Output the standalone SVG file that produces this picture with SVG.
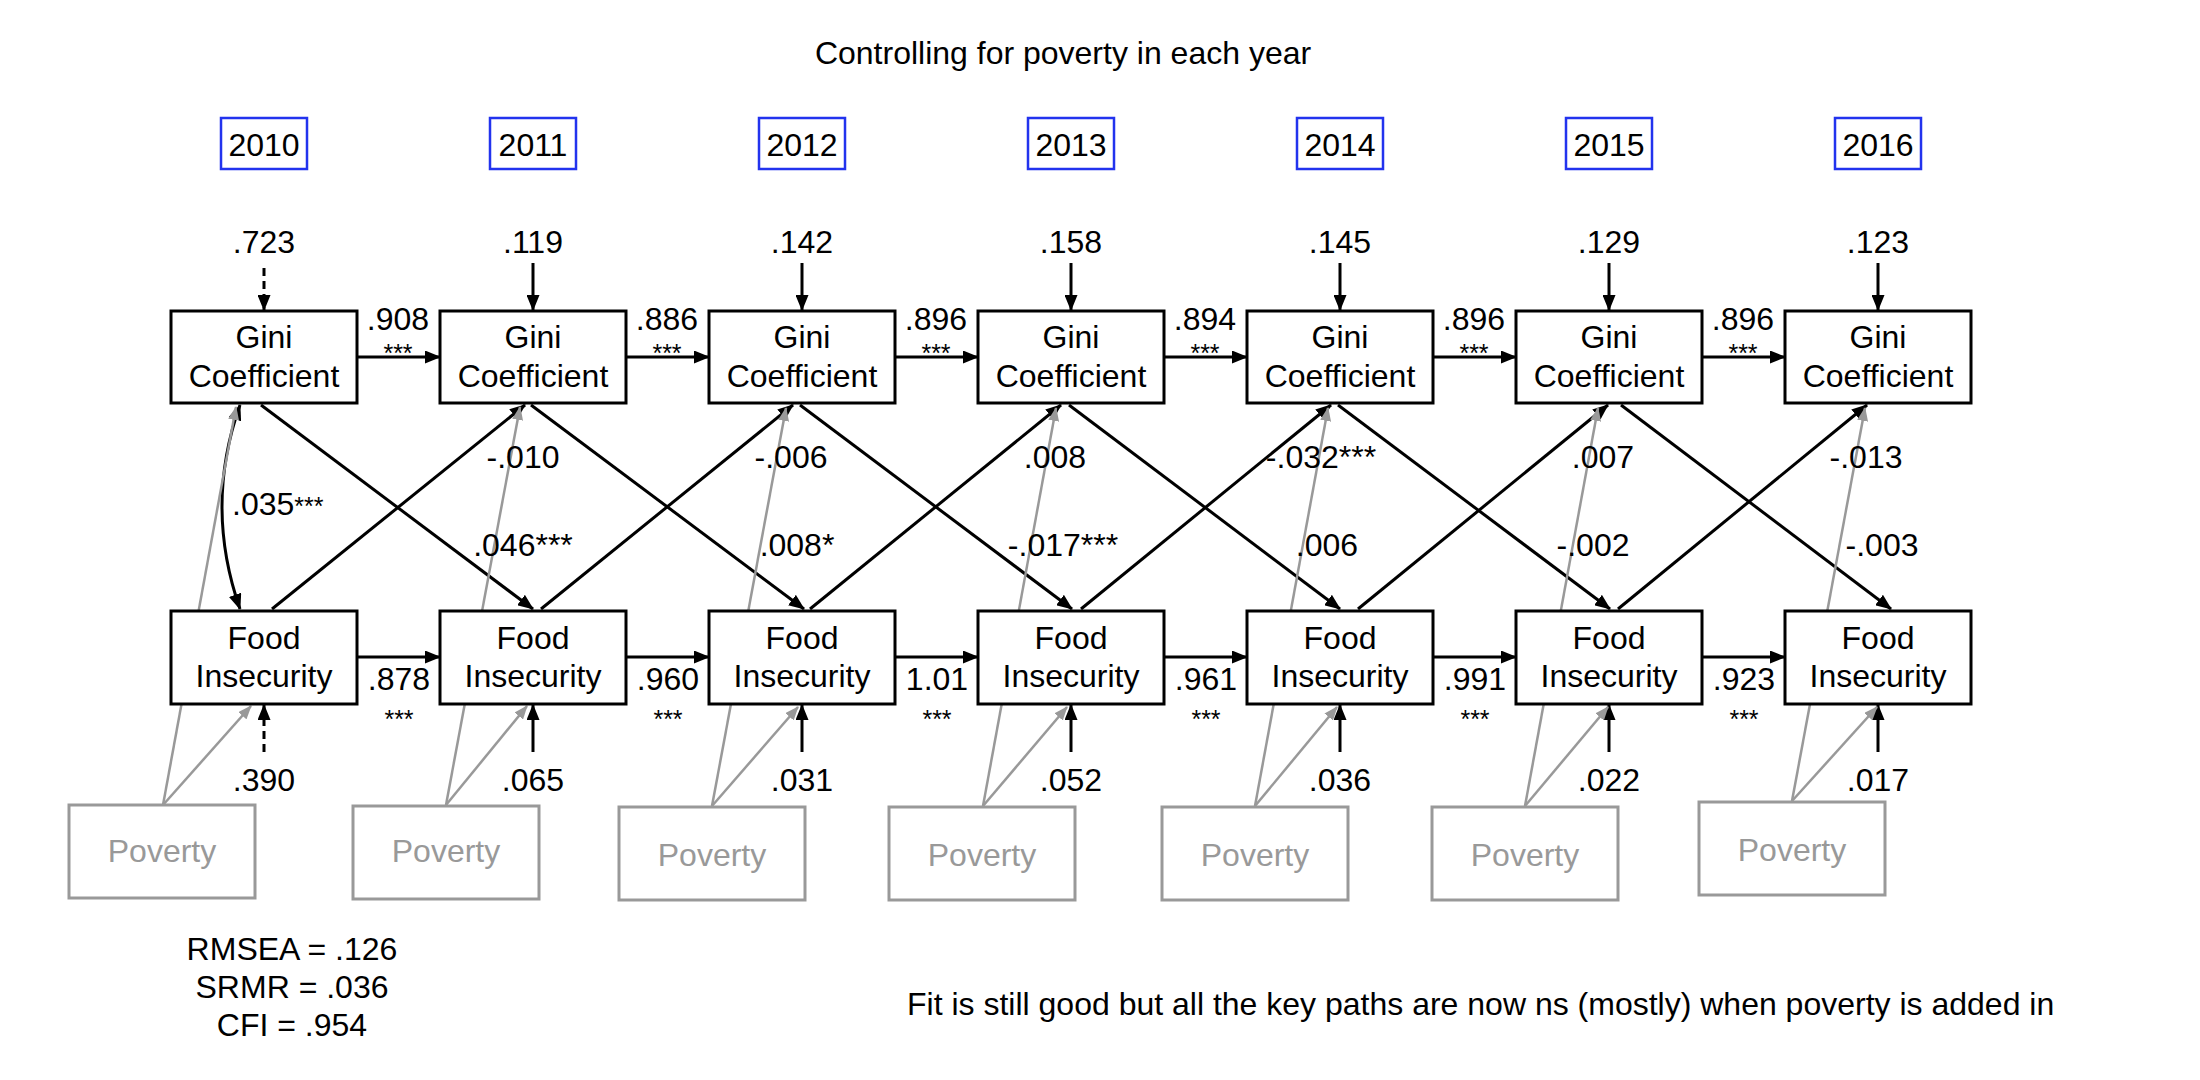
<svg xmlns="http://www.w3.org/2000/svg" width="2200" height="1080" viewBox="0 0 2200 1080">
<style>
text{font-family:"Liberation Sans",Arial,Helvetica,sans-serif;font-size:32px;fill:#000}
.c{text-anchor:middle}
.ast{font-size:25px}
.g{fill:#999}
.box{fill:#fff;stroke:#000;stroke-width:3}
.pov{fill:#fff;stroke:#999;stroke-width:3}
.yr{fill:#fff;stroke:#2233ee;stroke-width:2.5}
.ln{stroke:#000;stroke-width:3;fill:none;marker-end:url(#ah)}
.dash{stroke-dasharray:8 5}
.gl{stroke:#999;stroke-width:2.5;fill:none;marker-end:url(#gh)}
</style>
<defs>
<marker id="ah" markerUnits="userSpaceOnUse" markerWidth="16" markerHeight="13" refX="15" refY="6.5" orient="auto-start-reverse" viewBox="0 0 16 13"><path d="M0,0 L16,6.5 L0,13 z" fill="#000"/></marker>
<marker id="gh" markerUnits="userSpaceOnUse" markerWidth="14" markerHeight="11" refX="13" refY="5.5" orient="auto" viewBox="0 0 14 11"><path d="M0,0 L14,5.5 L0,11 z" fill="#999"/></marker>
</defs>
<rect width="2200" height="1080" fill="#fff"/>
<text class="c" x="1063" y="64">Controlling for poverty in each year</text>

<g id="connectors">
<line class="ln dash" x1="264" y1="268" x2="264" y2="310"/>
<line class="ln" x1="533" y1="263" x2="533" y2="310"/>
<line class="ln" x1="802" y1="263" x2="802" y2="310"/>
<line class="ln" x1="1071" y1="263" x2="1071" y2="310"/>
<line class="ln" x1="1340" y1="263" x2="1340" y2="310"/>
<line class="ln" x1="1609" y1="263" x2="1609" y2="310"/>
<line class="ln" x1="1878" y1="263" x2="1878" y2="310"/>
<line class="ln dash" x1="264" y1="752" x2="264" y2="705"/>
<line class="ln" x1="533" y1="752" x2="533" y2="705"/>
<line class="ln" x1="802" y1="752" x2="802" y2="705"/>
<line class="ln" x1="1071" y1="752" x2="1071" y2="705"/>
<line class="ln" x1="1340" y1="752" x2="1340" y2="705"/>
<line class="ln" x1="1609" y1="752" x2="1609" y2="705"/>
<line class="ln" x1="1878" y1="752" x2="1878" y2="705"/>
<line class="ln" x1="357" y1="357" x2="440" y2="357"/>
<line class="ln" x1="626" y1="357" x2="709" y2="357"/>
<line class="ln" x1="895" y1="357" x2="978" y2="357"/>
<line class="ln" x1="1164" y1="357" x2="1247" y2="357"/>
<line class="ln" x1="1433" y1="357" x2="1516" y2="357"/>
<line class="ln" x1="1702" y1="357" x2="1785" y2="357"/>
<line class="ln" x1="357" y1="657" x2="440" y2="657"/>
<line class="ln" x1="626" y1="657" x2="709" y2="657"/>
<line class="ln" x1="895" y1="657" x2="978" y2="657"/>
<line class="ln" x1="1164" y1="657" x2="1247" y2="657"/>
<line class="ln" x1="1433" y1="657" x2="1516" y2="657"/>
<line class="ln" x1="1702" y1="657" x2="1785" y2="657"/>
<line class="ln" x1="261" y1="405" x2="533" y2="609"/>
<line class="ln" x1="531" y1="405" x2="804" y2="609"/>
<line class="ln" x1="800" y1="405" x2="1072" y2="609"/>
<line class="ln" x1="1069" y1="405" x2="1340" y2="609"/>
<line class="ln" x1="1338" y1="405" x2="1610" y2="609"/>
<line class="ln" x1="1621" y1="405" x2="1891" y2="609"/>
<line class="ln" x1="272" y1="609" x2="525" y2="405"/>
<line class="ln" x1="541" y1="609" x2="793" y2="405"/>
<line class="ln" x1="810" y1="609" x2="1061" y2="405"/>
<line class="ln" x1="1081" y1="609" x2="1331" y2="405"/>
<line class="ln" x1="1358" y1="609" x2="1608" y2="405"/>
<line class="ln" x1="1618" y1="609" x2="1867" y2="405"/>
<path d="M240,405 Q204,506 240,609" stroke="#000" stroke-width="3" fill="none" marker-start="url(#ah)" marker-end="url(#ah)"/>
<line class="gl" x1="163" y1="805" x2="236" y2="407"/>
<line class="gl" x1="163" y1="805" x2="251" y2="706"/>
<line class="gl" x1="446" y1="805" x2="520" y2="407"/>
<line class="gl" x1="446" y1="805" x2="527" y2="706"/>
<line class="gl" x1="712" y1="806" x2="786" y2="408"/>
<line class="gl" x1="712" y1="806" x2="798" y2="707"/>
<line class="gl" x1="983" y1="806" x2="1056" y2="408"/>
<line class="gl" x1="983" y1="806" x2="1067" y2="707"/>
<line class="gl" x1="1255" y1="806" x2="1328" y2="408"/>
<line class="gl" x1="1255" y1="806" x2="1337" y2="707"/>
<line class="gl" x1="1525" y1="806" x2="1598" y2="408"/>
<line class="gl" x1="1525" y1="806" x2="1608" y2="707"/>
<line class="gl" x1="1792" y1="801" x2="1865" y2="408"/>
<line class="gl" x1="1792" y1="801" x2="1877" y2="707"/>
</g>

<g id="labels">
<text class="c" x="264" y="253">.723</text>
<text class="c" x="533" y="253">.119</text>
<text class="c" x="802" y="253">.142</text>
<text class="c" x="1071" y="253">.158</text>
<text class="c" x="1340" y="253">.145</text>
<text class="c" x="1609" y="253">.129</text>
<text class="c" x="1878" y="253">.123</text>
<text class="c" x="264" y="791">.390</text>
<text class="c" x="533" y="791">.065</text>
<text class="c" x="802" y="791">.031</text>
<text class="c" x="1071" y="791">.052</text>
<text class="c" x="1340" y="791">.036</text>
<text class="c" x="1609" y="791">.022</text>
<text class="c" x="1878" y="791">.017</text>
<text class="c" x="398" y="330">.908</text>
<text class="c" x="667" y="330">.886</text>
<text class="c" x="936" y="330">.896</text>
<text class="c" x="1205" y="330">.894</text>
<text class="c" x="1474" y="330">.896</text>
<text class="c" x="1743" y="330">.896</text>
<text class="c ast" x="398" y="362">***</text>
<text class="c ast" x="667" y="362">***</text>
<text class="c ast" x="936" y="362">***</text>
<text class="c ast" x="1205" y="362">***</text>
<text class="c ast" x="1474" y="362">***</text>
<text class="c ast" x="1743" y="362">***</text>
<text class="c" x="399" y="690">.878</text>
<text class="c" x="668" y="690">.960</text>
<text class="c" x="937" y="690">1.01</text>
<text class="c" x="1206" y="690">.961</text>
<text class="c" x="1475" y="690">.991</text>
<text class="c" x="1744" y="690">.923</text>
<text class="c ast" x="399" y="728">***</text>
<text class="c ast" x="668" y="728">***</text>
<text class="c ast" x="937" y="728">***</text>
<text class="c ast" x="1206" y="728">***</text>
<text class="c ast" x="1475" y="728">***</text>
<text class="c ast" x="1744" y="728">***</text>
<text x="232" y="515">.035<tspan class="ast">***</tspan></text>
<text class="c" x="523" y="468">-.010</text>
<text class="c" x="791" y="468">-.006</text>
<text class="c" x="1055" y="468">.008</text>
<text class="c" x="1321" y="468">-.032***</text>
<text class="c" x="1603" y="468">.007</text>
<text class="c" x="1866" y="468">-.013</text>
<text class="c" x="523" y="556">.046***</text>
<text class="c" x="797" y="556">.008*</text>
<text class="c" x="1063" y="556">-.017***</text>
<text class="c" x="1327" y="556">.006</text>
<text class="c" x="1593" y="556">-.002</text>
<text class="c" x="1882" y="556">-.003</text>
<text class="c" x="292" y="960">RMSEA = .126</text>
<text class="c" x="292" y="998">SRMR = .036</text>
<text class="c" x="292" y="1036">CFI = .954</text>
<text x="907" y="1015">Fit is still good but all the key paths are now ns (mostly) when poverty is added in</text>
</g>

<g id="year-2010"><rect class="yr" x="221" y="118" width="86" height="51"/><text class="c" x="264" y="156">2010</text></g>
<g id="year-2011"><rect class="yr" x="490" y="118" width="86" height="51"/><text class="c" x="533" y="156">2011</text></g>
<g id="year-2012"><rect class="yr" x="759" y="118" width="86" height="51"/><text class="c" x="802" y="156">2012</text></g>
<g id="year-2013"><rect class="yr" x="1028" y="118" width="86" height="51"/><text class="c" x="1071" y="156">2013</text></g>
<g id="year-2014"><rect class="yr" x="1297" y="118" width="86" height="51"/><text class="c" x="1340" y="156">2014</text></g>
<g id="year-2015"><rect class="yr" x="1566" y="118" width="86" height="51"/><text class="c" x="1609" y="156">2015</text></g>
<g id="year-2016"><rect class="yr" x="1835" y="118" width="86" height="51"/><text class="c" x="1878" y="156">2016</text></g>

<g id="gini-2010"><rect class="box" x="171" y="311" width="186" height="92"/><text class="c" x="264" y="348">Gini</text><text class="c" x="264" y="387">Coefficient</text></g>
<g id="gini-2011"><rect class="box" x="440" y="311" width="186" height="92"/><text class="c" x="533" y="348">Gini</text><text class="c" x="533" y="387">Coefficient</text></g>
<g id="gini-2012"><rect class="box" x="709" y="311" width="186" height="92"/><text class="c" x="802" y="348">Gini</text><text class="c" x="802" y="387">Coefficient</text></g>
<g id="gini-2013"><rect class="box" x="978" y="311" width="186" height="92"/><text class="c" x="1071" y="348">Gini</text><text class="c" x="1071" y="387">Coefficient</text></g>
<g id="gini-2014"><rect class="box" x="1247" y="311" width="186" height="92"/><text class="c" x="1340" y="348">Gini</text><text class="c" x="1340" y="387">Coefficient</text></g>
<g id="gini-2015"><rect class="box" x="1516" y="311" width="186" height="92"/><text class="c" x="1609" y="348">Gini</text><text class="c" x="1609" y="387">Coefficient</text></g>
<g id="gini-2016"><rect class="box" x="1785" y="311" width="186" height="92"/><text class="c" x="1878" y="348">Gini</text><text class="c" x="1878" y="387">Coefficient</text></g>

<g id="food-2010"><rect class="box" x="171" y="611" width="186" height="93"/><text class="c" x="264" y="649">Food</text><text class="c" x="264" y="687">Insecurity</text></g>
<g id="food-2011"><rect class="box" x="440" y="611" width="186" height="93"/><text class="c" x="533" y="649">Food</text><text class="c" x="533" y="687">Insecurity</text></g>
<g id="food-2012"><rect class="box" x="709" y="611" width="186" height="93"/><text class="c" x="802" y="649">Food</text><text class="c" x="802" y="687">Insecurity</text></g>
<g id="food-2013"><rect class="box" x="978" y="611" width="186" height="93"/><text class="c" x="1071" y="649">Food</text><text class="c" x="1071" y="687">Insecurity</text></g>
<g id="food-2014"><rect class="box" x="1247" y="611" width="186" height="93"/><text class="c" x="1340" y="649">Food</text><text class="c" x="1340" y="687">Insecurity</text></g>
<g id="food-2015"><rect class="box" x="1516" y="611" width="186" height="93"/><text class="c" x="1609" y="649">Food</text><text class="c" x="1609" y="687">Insecurity</text></g>
<g id="food-2016"><rect class="box" x="1785" y="611" width="186" height="93"/><text class="c" x="1878" y="649">Food</text><text class="c" x="1878" y="687">Insecurity</text></g>

<g id="poverty-2010"><rect class="pov" x="69" y="805" width="186" height="93"/><text class="c g" x="162" y="862">Poverty</text></g>
<g id="poverty-2011"><rect class="pov" x="353" y="806" width="186" height="93"/><text class="c g" x="446" y="862">Poverty</text></g>
<g id="poverty-2012"><rect class="pov" x="619" y="807" width="186" height="93"/><text class="c g" x="712" y="866">Poverty</text></g>
<g id="poverty-2013"><rect class="pov" x="889" y="807" width="186" height="93"/><text class="c g" x="982" y="866">Poverty</text></g>
<g id="poverty-2014"><rect class="pov" x="1162" y="807" width="186" height="93"/><text class="c g" x="1255" y="866">Poverty</text></g>
<g id="poverty-2015"><rect class="pov" x="1432" y="807" width="186" height="93"/><text class="c g" x="1525" y="866">Poverty</text></g>
<g id="poverty-2016"><rect class="pov" x="1699" y="802" width="186" height="93"/><text class="c g" x="1792" y="861">Poverty</text></g>
</svg>
